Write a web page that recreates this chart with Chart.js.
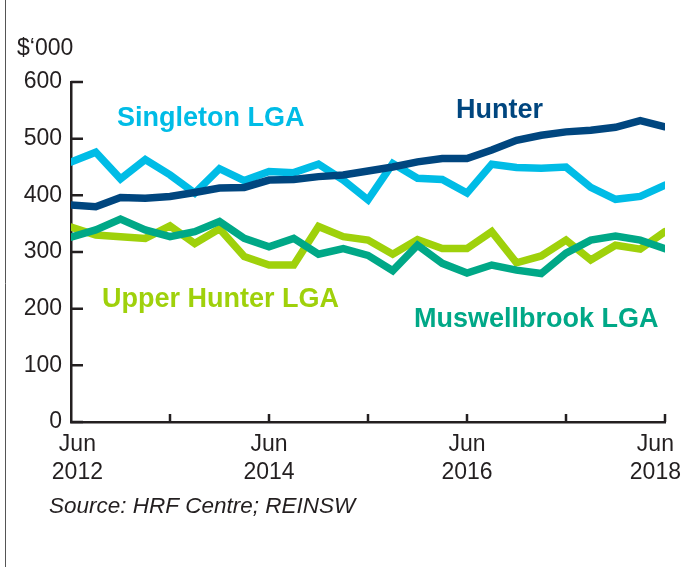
<!DOCTYPE html>
<html>
<head>
<meta charset="utf-8">
<script src="https://cdn.jsdelivr.net/npm/chart.js@4.4.1/dist/chart.umd.min.js"></script>
<style>
  html, body { margin: 0; padding: 0; background: #fff; }
  #wrap { width: 688px; height: 567px; position: relative; }
</style>
</head>
<body>
<div id="wrap"><canvas id="chart" width="688" height="567"></canvas></div>
<script>
// Quarterly, Jun 2012 .. Jun 2018 (25 quarters)
const quarters = [
    'Jun 2012', 'Sep 2012', 'Dec 2012', 'Mar 2013',
    'Jun 2013', 'Sep 2013', 'Dec 2013', 'Mar 2014',
    'Jun 2014', 'Sep 2014', 'Dec 2014', 'Mar 2015',
    'Jun 2015', 'Sep 2015', 'Dec 2015', 'Mar 2016',
    'Jun 2016', 'Sep 2016', 'Dec 2016', 'Mar 2017',
    'Jun 2017', 'Sep 2017', 'Dec 2017', 'Mar 2018',
    'Jun 2018'
];

const hunter = [383, 380, 396, 395, 398, 405, 413, 414, 427, 428, 433, 436, 443,
                450, 459, 465, 465, 480, 497, 506, 512, 515, 520, 532, 521];
const singleton = [459, 476, 429, 463, 436, 404, 447, 426, 442, 440, 455, 427, 392,
                   456, 430, 428, 404, 455, 449, 448, 450, 414, 393, 398, 418];
const upperHunter = [344, 330, 327, 324, 346, 315, 341, 292, 277, 277, 345, 327, 321,
                     296, 322, 306, 306, 336, 281, 293, 321, 286, 312, 305, 336];
const muswellbrook = [326, 339, 358, 339, 327, 336, 354, 324, 309, 324, 296, 306, 294,
                      267, 312, 280, 263, 277, 268, 262, 298, 321, 328, 321, 306];

const yTicks = [0, 100, 200, 300, 400, 500, 600];
// spaces nudge the first and last labels the way the original sits them
const xTickLabels = {
    0: ['  Jun', '  2012'],
    8: ['Jun', '2014'],
    16: ['Jun', '2016'],
    24: ['Jun   ', '2018   ']
};

const FONT = "'Liberation Sans', Arial, sans-serif";
const AXIS = '#231f20';

const seriesLabels = [
    { text: 'Singleton LGA', x: 117, y: 119, color: '#00bce6' },
    { text: 'Hunter', x: 456, y: 111, color: '#00467f' },
    { text: 'Upper Hunter LGA', x: 102, y: 300, color: '#9fd10b' },
    { text: 'Muswellbrook LGA', x: 414, y: 320, color: '#00a887' }
];

const toPoints = (arr) => arr.map((v, i) => ({ x: i, y: v }));

const lineStyle = (color) => ({
    borderColor: color,
    backgroundColor: color,
    borderWidth: 7.5,
    pointRadius: 0,
    tension: 0,
    borderCapStyle: 'round',
    borderJoinStyle: 'miter',
    fill: false
});

// Inside tick marks, frame and annotations
const decorations = {
    id: 'decorations',
    afterDraw(chart) {
        const { ctx, scales: { x, y }, chartArea } = chart;
        ctx.save();
        ctx.strokeStyle = AXIS;
        ctx.lineWidth = 2.5;
        ctx.beginPath();
        yTicks.forEach(v => {
            const py = y.getPixelForValue(v);
            ctx.moveTo(chartArea.left, py);
            ctx.lineTo(chartArea.left + 12, py);
        });
        for (let i = 4; i <= 24; i += 4) {
            const px = x.getPixelForValue(i);
            ctx.moveTo(px, chartArea.bottom);
            ctx.lineTo(px, chartArea.bottom - 8);
        }
        ctx.stroke();

        // frame edge
        ctx.strokeStyle = '#555';
        ctx.lineWidth = 1;
        ctx.beginPath();
        ctx.moveTo(5.5, 567);
        ctx.lineTo(5.5, 0);
        ctx.stroke();

        // unit
        ctx.fillStyle = AXIS;
        ctx.font = `23px ${FONT}`;
        ctx.textBaseline = 'middle';
        ctx.textAlign = 'left';
        ctx.fillText('$\u2018000', 17, 49);

        // series labels
        ctx.font = `bold 27px ${FONT}`;
        seriesLabels.forEach(l => {
            ctx.fillStyle = l.color;
            ctx.fillText(l.text, l.x, l.y);
        });

        // source
        ctx.fillStyle = AXIS;
        ctx.font = `italic 22.5px ${FONT}`;
        ctx.fillText('Source: HRF Centre; REINSW', 49, 507);
        ctx.restore();
    }
};

new Chart(document.getElementById('chart'), {
    type: 'line',
    data: {
        datasets: [
            { label: 'Hunter', data: toPoints(hunter), ...lineStyle('#00467f') },
            { label: 'Singleton LGA', data: toPoints(singleton), ...lineStyle('#00bce6') },
            { label: 'Muswellbrook LGA', data: toPoints(muswellbrook), ...lineStyle('#00a887') },
            { label: 'Upper Hunter LGA', data: toPoints(upperHunter), ...lineStyle('#9fd10b') }
        ]
    },
    options: {
        responsive: false,
        animation: false,
        layout: { autoPadding: false, padding: { left: 0, top: 82, right: 23, bottom: 0 } },
        plugins: {
            legend: { display: false },
            tooltip: { enabled: false }
        },
        scales: {
            x: {
                type: 'linear',
                min: 0,
                max: quarters.length - 1,
                afterFit: (s) => { s.height = 145; s.paddingLeft = 0; s.paddingRight = 0; },
                afterBuildTicks: (s) => {
                    s.ticks = Object.keys(xTickLabels).map(k => ({ value: Number(k) }));
                },
                grid: { display: false, drawTicks: false },
                border: { display: true, color: AXIS, width: 2.5 },
                ticks: {
                    color: AXIS,
                    font: { family: FONT, size: 23, lineHeight: 1.2 },
                    padding: 9,
                    maxRotation: 0,
                    autoSkip: false,
                    callback: (v) => xTickLabels[v] || ''
                }
            },
            y: {
                min: 0,
                max: 600,
                afterFit: (s) => { s.width = 71; s.paddingTop = 0; s.paddingBottom = 0; },
                afterBuildTicks: (s) => { s.ticks = yTicks.map(v => ({ value: v })); },
                grid: { display: false, drawTicks: false },
                border: { display: true, color: AXIS, width: 2.5 },
                ticks: {
                    color: AXIS,
                    font: { family: FONT, size: 23 },
                    padding: 9
                }
            }
        }
    },
    plugins: [decorations]
});
</script>
</body>
</html>
